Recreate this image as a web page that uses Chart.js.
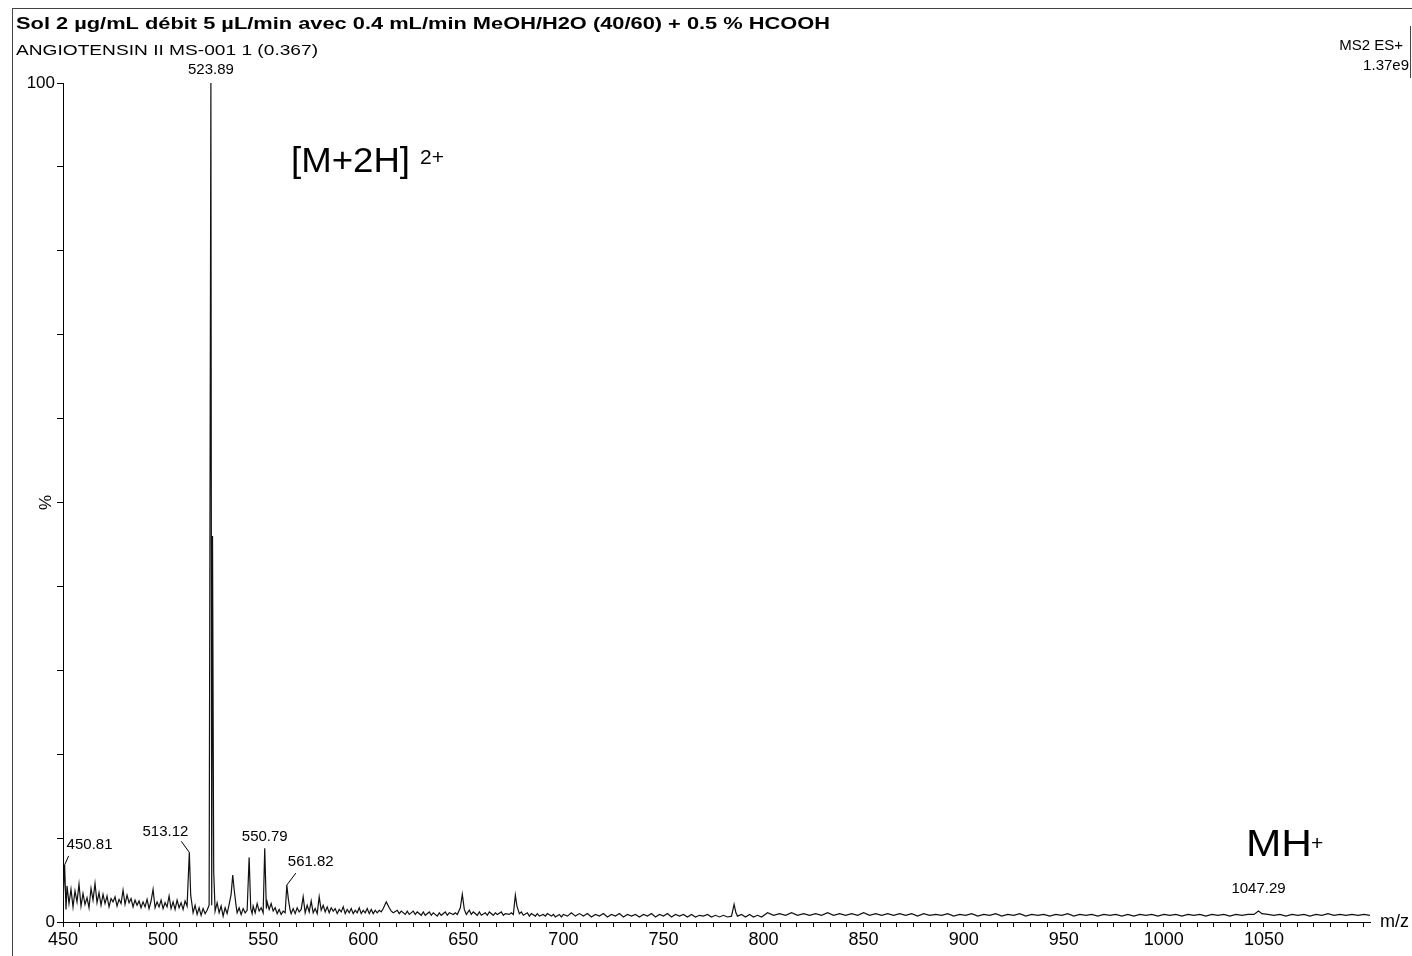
<!DOCTYPE html>
<html>
<head>
<meta charset="utf-8">
<script src="https://cdn.jsdelivr.net/npm/chart.js@4.4.0/dist/chart.umd.min.js"></script>
<style>
  body { margin: 0; background: #fff; }
  canvas { display: block; }
</style>
</head>
<body>
<canvas id="spectrum" width="1412" height="956"></canvas>
<script>
// m/z values, with their relative intensity (%)
const mzValues = [
  450, 450.81, 451.5, 452, 453, 454, 455, 456, 457, 458,
  459, 460, 461, 462, 463, 464, 465, 466, 467, 468,
  469, 470, 471, 472, 473, 474, 475, 476, 477, 478,
  479, 480, 481, 482, 483, 484, 485, 486, 487, 488,
  489, 490, 491, 492, 493, 494, 495, 496, 497, 498,
  499, 500, 501, 502, 503, 504, 505, 506, 507, 508,
  509, 510, 511, 512, 513.12, 513.8, 514.5, 515, 516, 517,
  518, 519, 520, 521, 522, 523, 523.89, 524.3, 524.7, 525.3,
  526, 527, 528, 529, 530, 531, 532, 533, 534, 534.8,
  535.5, 536.5, 537, 538, 539, 540, 541, 542, 543, 543.8,
  544.5, 545, 546, 547, 548, 549, 550, 550.79, 551.6, 552,
  553, 554, 555, 556, 557, 558, 559, 560, 561, 561.82,
  562.6, 563.5, 564, 565, 566, 567, 568, 569, 570, 571,
  572, 573, 574, 575, 576, 577, 578, 579, 580, 581,
  582, 583, 584, 585, 586, 587, 588, 589, 590, 591,
  592, 593, 594, 595, 596, 597, 598, 599, 600, 601,
  602, 603, 604, 605, 606, 607, 608, 609, 610, 611.5,
  613, 614, 615, 617, 618, 619, 621, 622, 623, 625,
  626, 627, 629, 630, 631, 633, 634, 635, 637, 638,
  639, 641, 642, 643, 645, 646, 647, 648.5, 649.5, 650.5,
  651.5, 653, 654, 655, 657, 658, 659, 661, 662, 663,
  665, 666, 667, 669, 670, 671, 673, 674, 675, 676,
  676.8, 678, 679, 680, 682, 683, 684, 686, 687, 688,
  690, 691, 692, 694, 695, 696, 698, 699, 700, 702,
  704, 706, 708, 710, 712, 714, 716, 718, 720, 722,
  724, 726, 728, 730, 732, 734, 736, 738, 740, 742,
  744, 746, 748, 750, 752, 754, 756, 758, 760, 762,
  764, 766, 768, 770, 772, 774, 776, 778, 780, 782,
  784, 785.3, 786.2, 787, 789, 791, 793, 795, 797, 799,
  802, 805, 808, 811, 814, 817, 820, 823, 826, 829,
  832, 835, 838, 841, 844, 847, 850, 853, 856, 859,
  862, 865, 868, 871, 874, 877, 880, 883, 886, 889,
  892, 895, 898, 901, 904, 907, 910, 913, 916, 919,
  922, 925, 928, 931, 934, 937, 940, 943, 946, 949,
  952, 955, 958, 961, 964, 967, 970, 973, 976, 979,
  982, 985, 988, 991, 994, 997, 1000, 1003, 1006, 1009,
  1012, 1015, 1018, 1021, 1024, 1027, 1030, 1033, 1036, 1039,
  1042, 1045, 1047.29, 1049, 1052, 1055, 1058, 1061, 1064, 1067,
  1070, 1073, 1076, 1079, 1082, 1085, 1088, 1091, 1094, 1097,
  1100, 1103
]

const intensities = [
  2.4, 6.8, 1.5, 4.3, 2.2, 3.9, 1.8, 3.7, 2.4, 4.5,
  1.9, 3.4, 2.1, 2.9, 1.7, 4.0, 2.6, 4.6, 2.3, 3.5,
  2.0, 3.3, 2.2, 3.1, 1.8, 2.8, 2.4, 3.0, 1.9, 2.7,
  2.2, 3.8, 2.1, 3.2, 2.3, 2.8, 1.8, 2.6, 2.0, 2.5,
  1.7, 2.4, 1.8, 2.7, 1.6, 2.5, 3.9, 1.7, 2.4, 1.8,
  2.6, 1.6, 2.3, 1.8, 3.1, 1.6, 2.4, 1.5, 2.6, 1.7,
  2.3, 1.5, 2.5, 1.9, 8.3, 3.2, 2.0, 1.1, 2.0, 0.9,
  1.7, 0.8, 1.6, 1.0, 1.4, 2.0, 100, 2.0, 46, 6.0,
  1.3, 2.3, 1.1, 1.9, 0.7, 1.7, 1.0, 2.1, 3.3, 5.6,
  3.9, 1.9, 1.1, 1.7, 0.9, 1.6, 1.1, 1.4, 7.7, 1.6,
  1.0, 1.9, 1.1, 2.2, 1.3, 1.7, 1.1, 8.8, 1.6, 2.4,
  1.5, 2.2, 1.3, 1.7, 1.0, 1.5, 0.9, 1.3, 1.1, 4.4,
  2.7, 1.4, 1.0, 1.6, 1.0, 1.7, 1.2, 1.5, 3.0, 1.1,
  2.0, 1.2, 2.5, 1.1, 1.6, 1.0, 3.0, 1.4, 2.0, 1.2,
  1.8, 1.1, 1.7, 1.3, 1.6, 1.0, 1.5, 1.2, 1.8, 1.0,
  1.5, 1.1, 1.6, 1.0, 1.4, 1.1, 1.7, 1.0, 1.4, 1.1,
  1.6, 1.0, 1.5, 1.0, 1.4, 1.1, 1.4, 1.2, 1.6, 2.4,
  1.7, 1.3, 1.1, 1.4, 1.0, 1.3, 0.9, 1.3, 0.9, 1.3,
  0.9, 1.2, 0.8, 1.2, 0.8, 1.2, 0.8, 1.1, 0.7, 1.1,
  0.8, 1.2, 0.8, 1.1, 0.9, 1.1, 0.9, 1.7, 3.3, 1.5,
  0.9, 1.4, 0.9, 1.2, 0.8, 1.2, 0.8, 1.1, 0.8, 1.2,
  0.8, 1.1, 0.9, 1.2, 0.8, 1.0, 0.9, 1.1, 0.9, 3.2,
  1.9, 1.0, 1.2, 0.8, 1.1, 0.7, 1.0, 0.7, 1.0, 0.7,
  0.9, 0.7, 1.0, 0.7, 0.9, 0.6, 0.9, 0.6, 0.9, 0.7,
  1.1, 0.7, 1.0, 0.7, 1.0, 0.6, 0.9, 0.7, 1.0, 0.6,
  0.9, 0.7, 1.0, 0.6, 0.9, 0.7, 0.9, 0.6, 0.9, 0.7,
  1.0, 0.6, 0.9, 0.7, 1.0, 0.6, 0.9, 0.7, 0.9, 0.6,
  0.9, 0.6, 0.8, 0.7, 0.9, 0.6, 0.8, 0.6, 0.8, 0.6,
  0.7, 2.1, 1.1, 0.7, 0.9, 0.6, 0.9, 0.6, 0.8, 0.6,
  1.1, 0.8, 1.0, 0.8, 1.1, 0.8, 1.0, 0.8, 1.0, 0.8,
  1.1, 0.8, 1.0, 0.8, 1.0, 0.8, 1.1, 0.8, 1.0, 0.8,
  1.0, 0.8, 1.0, 0.8, 1.0, 0.7, 1.0, 0.8, 0.9, 0.8,
  1.0, 0.7, 0.9, 0.8, 1.0, 0.7, 0.9, 0.8, 1.0, 0.7,
  0.9, 0.8, 1.0, 0.7, 0.9, 0.8, 0.9, 0.7, 0.9, 0.8,
  1.0, 0.7, 0.9, 0.8, 0.9, 0.7, 0.9, 0.8, 0.9, 0.7,
  0.9, 0.7, 0.9, 0.8, 0.9, 0.7, 0.9, 0.8, 0.9, 0.7,
  0.9, 0.8, 0.9, 0.7, 0.9, 0.8, 0.9, 0.7, 0.9, 0.8,
  0.9, 0.9, 1.3, 1.0, 0.9, 0.8, 0.9, 0.7, 0.9, 0.8,
  0.9, 0.7, 0.9, 0.8, 1.0, 0.8, 0.9, 0.8, 0.9, 0.8,
  0.9, 0.8
]

// annotated peaks
const peakLabels = ["523.89", "450.81", "513.12", "550.79", "561.82", "1047.29"]

// axis ticks
const xMin = 450
const xMax = 1103
const xLabelStep = 50
const xLabelLast = 1050
const xMinorPerLabel = 6
const yTickStep = 10

const titleText = "Sol 2 µg/mL débit 5 µL/min avec 0.4 mL/min MeOH/H2O (40/60) + 0.5 % HCOOH"
const subtitleText = "ANGIOTENSIN II MS-001 1 (0.367)"
const modeText = "MS2 ES+"
const scaleText = "1.37e9"

const FONT = "'Liberation Sans', Arial, sans-serif"

// where each peak label sits relative to its peak top
const labelPlacement = {
  "523.89": { align: "center", dx: 0, dy: -13 },
  "450.81": { align: "left", dx: 2, dy: -20, lead: [4, -9] },
  "513.12": { align: "right", dx: -1, dy: -21, lead: [-8, -11] },
  "550.79": { align: "center", dx: 0, dy: -11 },
  "561.82": { align: "left", dx: 1, dy: -23, lead: [9, -12] },
  "1047.29": { align: "center", dx: 0, dy: -22 },
}

const points = mzValues.map((mz, i) => ({ x: mz, y: intensities[i] }))

function stretchText(ctx, text, x, y, targetWidth) {
  const w = ctx.measureText(text).width
  ctx.save()
  ctx.translate(x, y)
  ctx.scale(targetWidth / w, 1)
  ctx.fillText(text, 0, 0)
  ctx.restore()
}

const decorations = {
  id: "decorations",
  beforeDraw(chart) {
    const { ctx } = chart
    ctx.save()
    ctx.fillStyle = "#fff"
    ctx.fillRect(0, 0, chart.width, chart.height)
    ctx.restore()
  },
  afterDraw(chart) {
    const { ctx } = chart
    const x = chart.scales.x
    const y = chart.scales.y
    ctx.save()
    ctx.fillStyle = "#000"

    // scan frame
    ctx.lineWidth = 1
    ctx.strokeStyle = "#444"
    ctx.beginPath()
    ctx.moveTo(12.5, 8)
    ctx.lineTo(12.5, 956)
    ctx.moveTo(12, 8.5)
    ctx.lineTo(1412, 8.5)
    ctx.moveTo(1410.5, 26)
    ctx.lineTo(1410.5, 78)
    ctx.stroke()

    // header
    ctx.textBaseline = "alphabetic"
    ctx.textAlign = "left"
    ctx.font = `bold 17px ${FONT}`
    stretchText(ctx, titleText, 16, 29, 814)
    ctx.font = `15px ${FONT}`
    stretchText(ctx, subtitleText, 16, 55, 302)
    ctx.textAlign = "right"
    ctx.font = `15px ${FONT}`
    ctx.fillText(modeText, 1403, 50)
    ctx.fillText(scaleText, 1409, 70)

    // y axis title
    ctx.save()
    ctx.translate(46, y.getPixelForValue(50))
    ctx.rotate(-Math.PI / 2)
    ctx.textAlign = "center"
    ctx.textBaseline = "middle"
    ctx.font = `17px ${FONT}`
    ctx.fillText("%", 0, 0)
    ctx.restore()

    // x axis unit
    ctx.textAlign = "left"
    ctx.textBaseline = "middle"
    ctx.font = `18px ${FONT}`
    ctx.fillText("m/z", 1380, y.getPixelForValue(0))

    // peak labels
    ctx.font = `15px ${FONT}`
    ctx.strokeStyle = "#000"
    peakLabels.forEach((label) => {
      const idx = mzValues.indexOf(parseFloat(label))
      if (idx < 0) return
      const px = x.getPixelForValue(mzValues[idx])
      const py = y.getPixelForValue(intensities[idx])
      const p = labelPlacement[label]
      ctx.textAlign = p.align
      ctx.textBaseline = "middle"
      ctx.fillText(label, px + p.dx, py + p.dy)
      if (p.lead) {
        ctx.beginPath()
        ctx.moveTo(px, py)
        ctx.lineTo(px + p.lead[0], py + p.lead[1])
        ctx.stroke()
      }
    })

    // ion annotations
    ctx.textAlign = "left"
    ctx.textBaseline = "alphabetic"
    ctx.font = `35px ${FONT}`
    stretchText(ctx, "[M+2H]", 291, 172, 119)
    ctx.font = `21px ${FONT}`
    ctx.fillText("2+", 420, 164)
    ctx.font = `36px ${FONT}`
    stretchText(ctx, "MH", 1246, 856, 66)
    ctx.font = `21px ${FONT}`
    ctx.fillText("+", 1311, 850)

    ctx.restore()
  },
}

new Chart(document.getElementById("spectrum"), {
  type: "line",
  data: {
    datasets: [
      {
        data: points,
        borderColor: "#111",
        borderWidth: 1.2,
        pointRadius: 0,
        tension: 0,
        fill: false,
      },
    ],
  },
  options: {
    responsive: false,
    animation: false,
    layout: { padding: { left: 10, top: 83, right: 42, bottom: 0 } },
    plugins: {
      legend: { display: false },
      tooltip: { enabled: false },
      title: { display: false },
    },
    scales: {
      x: {
        type: "linear",
        min: xMin,
        max: xMax,
        afterFit: (scale) => {
          scale.height = 34
        },
        afterBuildTicks: (scale) => {
          const ticks = []
          const step = xLabelStep / xMinorPerLabel
          for (let k = 0; xMin + k * step <= xMax; k++) {
            ticks.push({ value: xMin + k * step })
          }
          scale.ticks = ticks
        },
        ticks: {
          autoSkip: false,
          maxRotation: 0,
          padding: 2,
          color: "#000",
          font: { family: FONT, size: 18 },
          callback: (v) => {
            const r = Math.round(v)
            return Math.abs(v - r) < 0.01 && r % xLabelStep === 0 && r <= xLabelLast ? String(r) : ""
          },
        },
        grid: {
          drawOnChartArea: false,
          drawTicks: true,
          tickLength: 5,
          color: "#000",
        },
        border: { display: true, color: "#000", width: 1 },
      },
      y: {
        min: 0,
        max: 100,
        afterFit: (scale) => {
          scale.width = 53
        },
        ticks: {
          stepSize: yTickStep,
          autoSkip: false,
          padding: 2,
          color: "#000",
          font: { family: FONT, size: 17 },
          callback: (v) => (v === 0 || v === 100 ? String(v) : ""),
        },
        grid: {
          drawOnChartArea: false,
          drawTicks: true,
          tickLength: 6,
          color: "#000",
        },
        border: { display: true, color: "#000", width: 1 },
      },
    },
  },
  plugins: [decorations],
})
</script>
</body>
</html>
